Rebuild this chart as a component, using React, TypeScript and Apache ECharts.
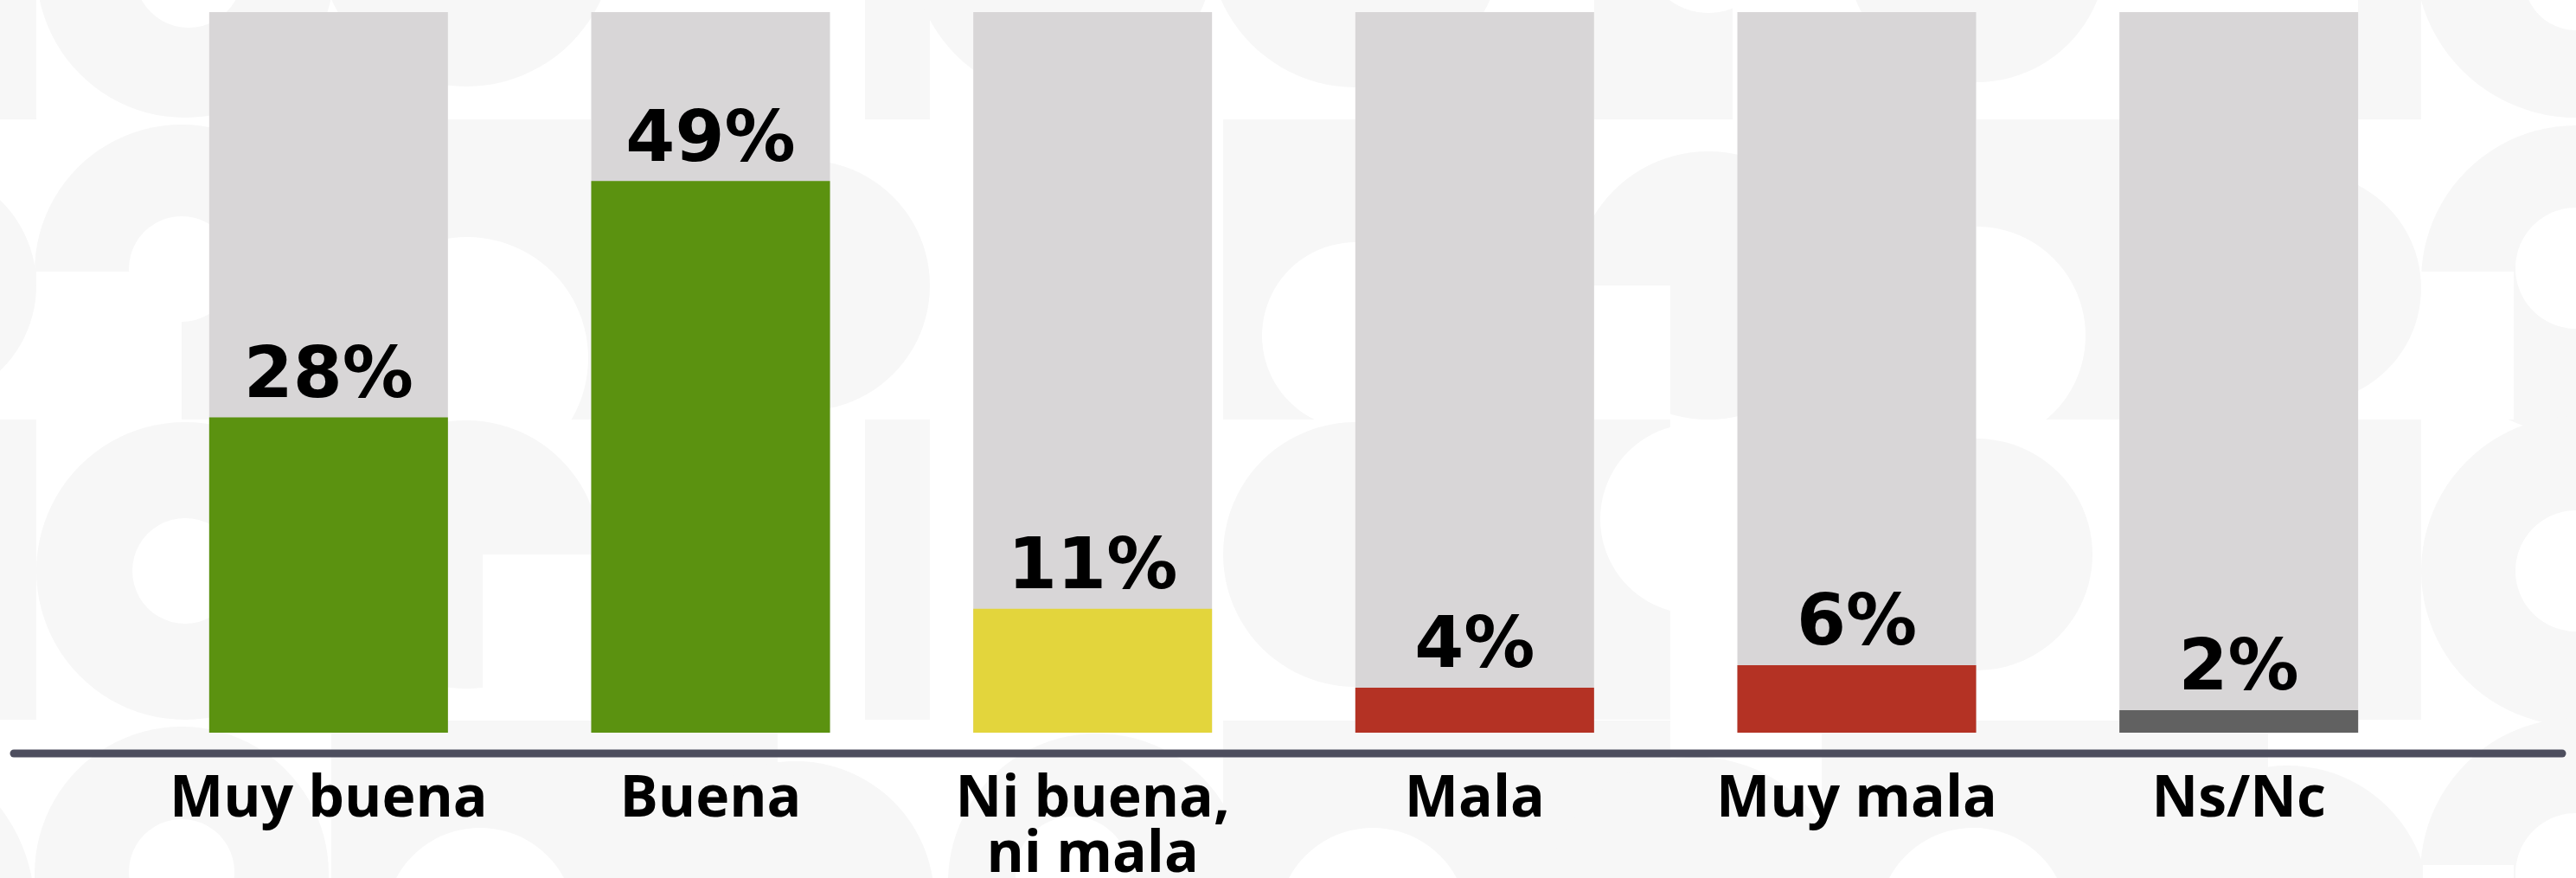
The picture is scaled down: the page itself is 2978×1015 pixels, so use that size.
import React, { useEffect, useRef } from "react";
import * as echarts from "echarts";

const categories = ["Muy buena", "Buena", "Ni buena,\nni mala", "Mala", "Muy mala", "Ns/Nc"];
const shares = [28, 49, 11, 4, 6, 2];
const barColors = ["#5b9210", "#5b9210", "#e3d53c", "#b43224", "#b43224", "#616161"];
const scaleMax = 64;

const PAT = "#f7f7f7";
const WHITE = "#ffffff";

type Shape = { t: "c" | "r"; fill: string; a: number; b: number; c: number; d?: number };

// decorative background motif (circles and blocks)
const decor: Shape[] = [
  // left margin
  { t: "r", fill: PAT, a: 0, b: 0, c: 42, d: 138 },
  { t: "c", fill: PAT, a: 214, b: -36, c: 172 },
  { t: "c", fill: WHITE, a: 218, b: -30, c: 62 },
  { t: "c", fill: PAT, a: -95, b: 330, c: 137 },
  { t: "c", fill: PAT, a: 210, b: 314, c: 170 },
  { t: "r", fill: WHITE, a: 42, b: 314, c: 168, d: 171 },
  { t: "r", fill: PAT, a: 210, b: 314, c: 170, d: 171 },
  { t: "c", fill: WHITE, a: 210, b: 311, c: 61 },
  { t: "r", fill: PAT, a: 0, b: 485, c: 42, d: 347 },
  { t: "c", fill: PAT, a: 214, b: 660, c: 172 },
  { t: "c", fill: WHITE, a: 214, b: 660, c: 61 },
  { t: "c", fill: PAT, a: -150, b: 1050, c: 190 },
  { t: "c", fill: PAT, a: 210, b: 1010, c: 170 },
  { t: "c", fill: WHITE, a: 210, b: 1008, c: 61 },
  // gap 1-2
  { t: "c", fill: PAT, a: 539, b: -71, c: 171 },
  { t: "r", fill: PAT, a: 518, b: 138, c: 165, d: 347 },
  { t: "c", fill: WHITE, a: 540, b: 414, c: 140 },
  { t: "c", fill: PAT, a: 539, b: 641, c: 155 },
  { t: "r", fill: WHITE, a: 558, b: 641, c: 125, d: 155 },
  { t: "r", fill: PAT, a: 383, b: 833, c: 516, d: 190 },
  { t: "c", fill: WHITE, a: 555, b: 1067, c: 110 },
  // gap 2-3
  { t: "r", fill: PAT, a: 1000, b: 0, c: 75, d: 138 },
  { t: "c", fill: PAT, a: 1229, b: -60, c: 175 },
  { t: "c", fill: PAT, a: 930, b: 330, c: 145 },
  { t: "r", fill: PAT, a: 1000, b: 485, c: 75, d: 347 },
  { t: "c", fill: PAT, a: 920, b: 1040, c: 160 },
  { t: "c", fill: PAT, a: 1268, b: 1020, c: 172 },
  { t: "c", fill: WHITE, a: 1240, b: 1010, c: 66 },
  // gap 3-4
  { t: "c", fill: PAT, a: 1567, b: -69, c: 170 },
  { t: "r", fill: PAT, a: 1414, b: 138, c: 153, d: 347 },
  { t: "c", fill: WHITE, a: 1567, b: 388, c: 108 },
  { t: "c", fill: PAT, a: 1567, b: 641, c: 153 },
  { t: "r", fill: PAT, a: 1414, b: 833, c: 517, d: 190 },
  { t: "c", fill: WHITE, a: 1587, b: 1067, c: 110 },
  // gap 4-5
  { t: "r", fill: PAT, a: 1843, b: 0, c: 160, d: 138 },
  { t: "c", fill: WHITE, a: 1975, b: -60, c: 75 },
  { t: "c", fill: PAT, a: 1975, b: 330, c: 155 },
  { t: "r", fill: WHITE, a: 1843, b: 330, c: 88, d: 155 },
  { t: "r", fill: PAT, a: 1843, b: 485, c: 88, d: 347 },
  { t: "c", fill: WHITE, a: 1960, b: 600, c: 110 },
  { t: "c", fill: PAT, a: 1960, b: 1050, c: 175 },
  // gap 5-6
  { t: "c", fill: PAT, a: 2285, b: -55, c: 150 },
  { t: "r", fill: PAT, a: 2285, b: 138, c: 166, d: 347 },
  { t: "c", fill: WHITE, a: 2285, b: 388, c: 126 },
  { t: "c", fill: PAT, a: 2285, b: 641, c: 134 },
  { t: "r", fill: PAT, a: 2106, b: 833, c: 516, d: 190 },
  { t: "c", fill: WHITE, a: 2281, b: 1067, c: 110 },
  { t: "c", fill: PAT, a: 2644, b: 1050, c: 165 },
  // right margin
  { t: "r", fill: PAT, a: 2726, b: 0, c: 73, d: 138 },
  { t: "c", fill: PAT, a: 2978, b: -50, c: 186 },
  { t: "c", fill: WHITE, a: 2978, b: -25, c: 60 },
  { t: "c", fill: PAT, a: 2666, b: 333, c: 133 },
  { t: "c", fill: PAT, a: 2978, b: 324, c: 179 },
  { t: "r", fill: WHITE, a: 2799, b: 314, c: 107, d: 171 },
  { t: "r", fill: PAT, a: 2906, b: 372, c: 72, d: 113 },
  { t: "c", fill: WHITE, a: 2978, b: 310, c: 70 },
  { t: "r", fill: PAT, a: 2726, b: 485, c: 73, d: 347 },
  { t: "c", fill: PAT, a: 2978, b: 660, c: 179 },
  { t: "c", fill: WHITE, a: 2978, b: 660, c: 70 },
  { t: "c", fill: PAT, a: 2978, b: 1010, c: 180 },
  { t: "c", fill: WHITE, a: 2978, b: 1010, c: 70 },
  { t: "r", fill: WHITE, a: 2801, b: 1000, c: 105, d: 15 },
];

export default function App() {
  const ref = useRef<HTMLDivElement>(null);
  useEffect(() => {
    if (!ref.current) return;
    const chart = echarts.init(ref.current, undefined, { renderer: "svg" });
    const bg = decor.map((s) =>
      s.t === "c"
        ? { type: "circle", silent: true, z: 0, shape: { cx: s.a, cy: s.b, r: s.c }, style: { fill: s.fill } }
        : { type: "rect", silent: true, z: 0, shape: { x: s.a, y: s.b, width: s.c, height: s.d }, style: { fill: s.fill } }
    );
    chart.setOption({
      animation: false,
      backgroundColor: "#ffffff",
      grid: { left: 159, right: 169, top: 14, bottom: 163, containLabel: false },
      xAxis: {
        type: "category",
        data: categories,
        axisLine: { show: false },
        axisTick: { show: false },
        axisLabel: {
          interval: 0,
          margin: 39,
          color: "#000000",
          fontFamily: "Open Sans",
          fontWeight: 700,
          fontSize: 66,
          lineHeight: 64,
        },
      },
      yAxis: {
        type: "value",
        min: 0,
        max: scaleMax,
        show: false,
        splitLine: { show: false },
      },
      graphic: [
        ...bg,
        {
          type: "line",
          silent: true,
          z: 5,
          shape: { x1: 16, y1: 871, x2: 2962, y2: 871 },
          style: { stroke: "#4d4e5e", lineWidth: 9, lineCap: "round" },
        },
      ],
      series: [
        {
          type: "bar",
          barWidth: 276,
          showBackground: true,
          backgroundStyle: { color: "#d8d6d7" },
          data: shares.map((v, i) => ({ value: v, itemStyle: { color: barColors[i] } })),
          label: {
            show: true,
            position: "top",
            distance: 11,
            formatter: "{c}%",
            color: "#000000",
            fontFamily: "DejaVu Sans",
            fontWeight: "bold",
            fontSize: 82,
          },
        },
      ],
    });
    return () => chart.dispose();
  }, []);
  return (
    <div
      ref={ref}
      style={{ position: "absolute", left: 0, top: 0, width: 2978, height: 1015 }}
    />
  );
}
